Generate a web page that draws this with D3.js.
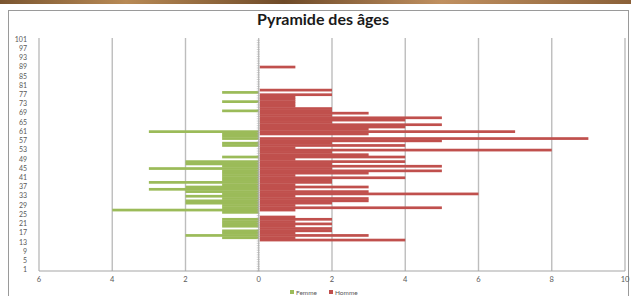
<!DOCTYPE html>
<html><head><meta charset="utf-8">
<script src="https://cdn.jsdelivr.net/npm/d3@7"></script>
<style>body{margin:0;background:#fff;}svg{display:block;}</style>
</head><body>
<svg id="c" width="631" height="296"></svg>
<script>
// Data
const ages = [1,2,3,4,5,6,7,8,9,10,11,12,13,14,15,16,17,18,19,20,21,22,23,24,25,26,27,28,29,30,
31,32,33,34,35,36,37,38,39,40,41,42,43,44,45,46,47,48,49,50,51,52,53,54,55,56,57,58,59,60,
61,62,63,64,65,66,67,68,69,70,71,72,73,74,75,76,77,78,79,80,81,82,83,84,85,86,87,88,89,90,
91,92,93,94,95,96,97,98,99,100,101];
const homme = [
0,0,0,0,0,0,0,0,0,0,
0,0,0,4,1,3,1,2,2,1,
2,1,2,1,0,0,1,5,1,2,
3,3,1,6,3,1,3,1,2,2,
4,1,3,5,2,5,2,4,1,4,
3,2,8,1,4,2,5,9,0,3,
7,3,4,5,2,4,5,2,3,2,
2,1,1,1,1,1,2,0,2,0,
0,0,0,0,0,0,0,0,1,0,
0,0,0,0,0,0,0,0,0,0,
0];
const femme = [
0,0,0,0,0,0,0,0,0,0,
0,0,0,0,1,2,1,1,0,1,
1,1,1,0,0,1,4,1,1,2,
2,1,2,1,2,3,2,1,3,1,
1,1,1,1,3,1,2,2,0,1,
0,0,0,0,1,1,0,1,1,1,
3,0,0,0,0,0,0,0,0,1,
0,0,0,1,0,0,0,1,0,0,
0,0,0,0,0,0,0,0,0,0,
0,0,0,0,0,0,0,0,0,0,
0];
const yTickLabels = [1,5,9,13,17,21,25,29,33,37,41,45,49,53,57,61,65,69,73,77,81,85,89,93,97,101];
const xTicks = [-6,-4,-2,0,2,4,6,8,10];
const seriesNames = ["Femme","Homme"];
const colors = {Femme:"#9BBB59", Homme:"#C0504D"};

const svg = d3.select("#c");

// top decorative strip
const defs = svg.append("defs");
const g1 = defs.append("linearGradient").attr("id","strip");
[["0%","#7a5530"],["20%","#b88a55"],["45%","#6e4a28"],["70%","#c09060"],["100%","#8a6038"]]
  .forEach(s=>g1.append("stop").attr("offset",s[0]).attr("stop-color",s[1]));
svg.append("rect").attr("x",0).attr("y",0).attr("width",631).attr("height",4).attr("fill","url(#strip)");

// chart frame
svg.append("rect").attr("x",8.5).attr("y",10.5).attr("width",620).attr("height",300)
  .attr("fill","#fff").attr("stroke","#9a9a9a").attr("stroke-width",1);

const x = d3.scaleLinear().domain([-6,10]).range([39,625]);
const y = d3.scaleBand().domain(ages.slice().reverse()).range([38,271]).paddingInner(0);
const yTop = 38, yBottom = 271;

// gridlines
svg.append("g").selectAll("line").data(xTicks.filter(t=>t!==0)).join("line")
  .attr("x1",d=>x(d)).attr("x2",d=>x(d)).attr("y1",yTop).attr("y2",yBottom)
  .attr("stroke","#bdbdbd").attr("stroke-width",1.4);

// bars
const rows = ages.map((a,i)=>({age:a, f:femme[i], h:homme[i]}));
svg.append("g").selectAll("rect").data(rows.filter(d=>d.f>0)).join("rect")
  .attr("x",d=>x(-d.f)).attr("width",d=>x(0)-x(-d.f))
  .attr("y",d=>y(d.age)).attr("height",y.bandwidth()+0.4)
  .attr("fill",colors.Femme);
svg.append("g").selectAll("rect").data(rows.filter(d=>d.h>0)).join("rect")
  .attr("x",x(0)+1).attr("width",d=>x(d.h)-x(0)-1)
  .attr("y",d=>y(d.age)).attr("height",y.bandwidth()+0.4)
  .attr("fill",colors.Homme);

// vertical category axis with minor ticks
const ax = svg.append("g");
ax.append("line").attr("x1",x(0)).attr("x2",x(0)).attr("y1",yTop).attr("y2",yBottom)
  .attr("stroke","#a6a6a6").attr("stroke-width",1);
ax.selectAll("line.t").data(ages).join("line").attr("class","t")
  .attr("x1",x(0)-2).attr("x2",x(0)+1)
  .attr("y1",d=>y(d)+y.step()).attr("y2",d=>y(d)+y.step())
  .attr("stroke","#b0b0b0").attr("stroke-width",0.6);

// y labels
svg.append("g").selectAll("text").data(yTickLabels).join("text")
  .attr("x",27).attr("y",d=>y(d)+y.bandwidth()/2).attr("dy","0.35em")
  .attr("text-anchor","end").attr("font-family","Lato, 'Open Sans', sans-serif")
  .attr("font-size",7).attr("fill","#595959").text(d=>d);

// x axis
svg.append("line").attr("x1",39).attr("x2",625).attr("y1",yBottom).attr("y2",yBottom)
  .attr("stroke","#a6a6a6").attr("stroke-width",1.2);
svg.append("g").selectAll("text").data(xTicks).join("text")
  .attr("x",d=>x(d)).attr("y",282).attr("text-anchor","middle")
  .attr("font-family","Lato, 'Open Sans', sans-serif").attr("font-size",7.5)
  .attr("fill","#595959").text(d=>Math.abs(d));

// title
svg.append("text").attr("x",323).attr("y",25).attr("text-anchor","middle")
  .attr("font-family","Lato, 'Open Sans', sans-serif").attr("font-weight","bold")
  .attr("font-size",16).attr("fill","#1a1a1a").text("Pyramide des âges");

// legend
const lg = svg.append("g").attr("font-family","Lato, 'Open Sans', sans-serif").attr("font-size",6.5).attr("fill","#595959");
const legX = [290, 329];
seriesNames.forEach((n,i)=>{
  lg.append("rect").attr("x",legX[i]).attr("y",290).attr("width",4).attr("height",4).attr("fill",colors[n]);
  lg.append("text").attr("x",legX[i]+6).attr("y",294.5).text(n);
});
</script>
</body></html>
